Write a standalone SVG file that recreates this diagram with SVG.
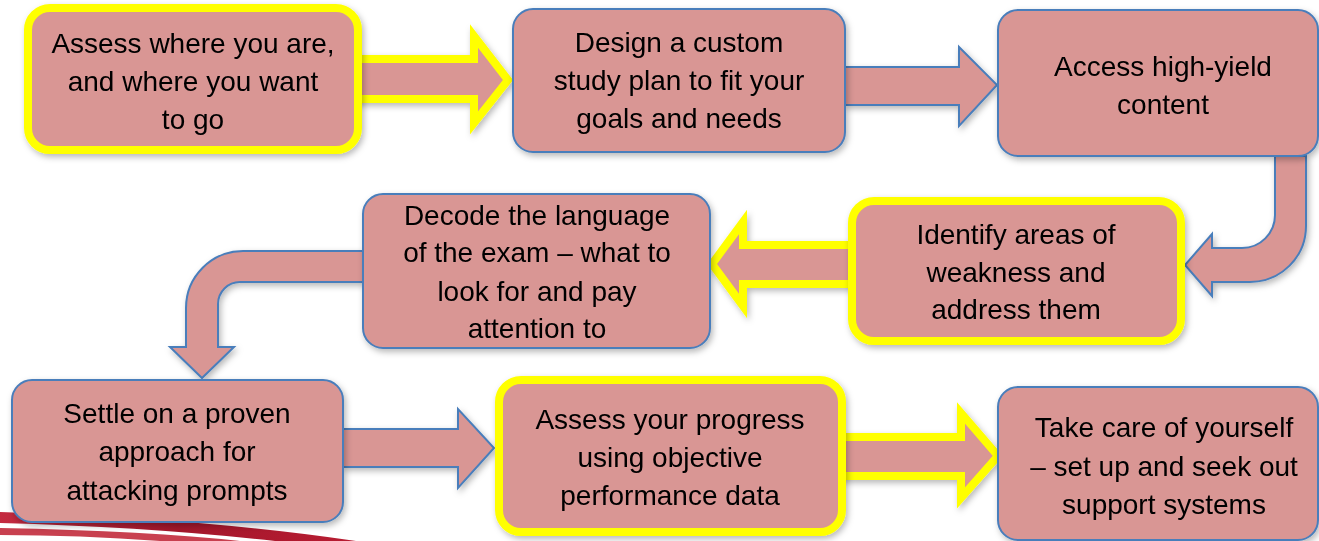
<svg xmlns="http://www.w3.org/2000/svg" width="1319" height="541" viewBox="0 0 1319 541">
  <style>
    .box { fill: #d99694; }
    .blue { stroke: #4a7ebb; stroke-width: 2; }
    .yellow { stroke: #ffff00; stroke-width: 8; }
    .arrow { fill: #d99694; stroke-linejoin: miter; }
    .label { font-family: "Liberation Sans", Arial, sans-serif; font-size: 28px; fill: #000; text-anchor: middle; }
  </style>
  <defs>
    <filter id="shadow" x="-10%" y="-10%" width="130%" height="140%">
      <feDropShadow dx="2" dy="3" stdDeviation="3" flood-color="#000" flood-opacity="0.28"/>
    </filter>
    <linearGradient id="swoosh" x1="0" y1="0" x2="1" y2="0">
      <stop offset="0" stop-color="#c42a40"/>
      <stop offset="0.5" stop-color="#a3172b"/>
      <stop offset="1" stop-color="#b81c32"/>
    </linearGradient>
  </defs>

  <rect width="1319" height="541" fill="#ffffff"/>

  <!-- decorative red stripes, lower left -->
  <g id="swoosh-stripes">
    <path d="M0,512 Q200,518 356,541 L275,541 Q150,527 0,523 Z" fill="url(#swoosh)"/>
    <path d="M0,528 Q150,531 240,541 L160,541 Q80,535 0,535 Z" fill="#c8404f"/>
  </g>

  <!-- connectors -->
  <g id="connectors" filter="url(#shadow)">
    <path class="arrow yellow" d="M356,59 L474,59 L474,36 L508,80 L474,123 L474,99 L356,99 Z"/>
    <path class="arrow blue" d="M845,67 L959,67 L959,47 L997,85 L959,126 L959,105 L845,105 Z"/>
    <path class="arrow blue" d="M1275,156 L1275,215 A33,33 0 0 1 1242,248 L1212,248 L1212,234 L1185,265 L1212,296 L1212,282 L1250,282 A56,56 0 0 0 1306,226 L1306,156 Z"/>
    <path class="arrow yellow" d="M852,245 L743,245 L743,222 L712,264 L743,306 L743,284 L852,284 Z"/>
    <path class="arrow blue" d="M363,251 L243,251 A57,57 0 0 0 186,308 L186,347 L170,347 L202,378 L234,347 L218,347 L218,304 A22,22 0 0 1 240,282 L363,282 Z"/>
    <path class="arrow blue" d="M343,429 L458,429 L458,409 L494,448 L458,488 L458,467 L343,467 Z"/>
    <path class="arrow yellow" d="M842,437 L961,437 L961,413 L998,456 L961,498 L961,476 L842,476 Z"/>
  </g>

  <!-- steps -->
  <g id="step-assess" filter="url(#shadow)">
    <rect class="box yellow" x="28" y="8" width="330" height="142" rx="22"/>
    <text class="label" x="193" y="53">Assess where you are,</text>
    <text class="label" x="193" y="91">and where you want</text>
    <text class="label" x="193" y="129">to go</text>
  </g>

  <g id="step-design" filter="url(#shadow)">
    <rect class="box blue" x="513" y="9" width="332" height="143" rx="20"/>
    <text class="label" x="679" y="52">Design a custom</text>
    <text class="label" x="679" y="90">study plan to fit your</text>
    <text class="label" x="679" y="128">goals and needs</text>
  </g>

  <g id="step-content" filter="url(#shadow)">
    <rect class="box blue" x="998" y="10" width="320" height="146" rx="20"/>
    <text class="label" x="1163" y="76">Access high-yield</text>
    <text class="label" x="1163" y="114">content</text>
  </g>

  <g id="step-weakness" filter="url(#shadow)">
    <rect class="box yellow" x="852" y="201" width="329" height="140" rx="22"/>
    <text class="label" x="1016" y="244">Identify areas of</text>
    <text class="label" x="1016" y="282">weakness and</text>
    <text class="label" x="1016" y="319">address them</text>
  </g>

  <g id="step-decode" filter="url(#shadow)">
    <rect class="box blue" x="363" y="194" width="347" height="154" rx="20"/>
    <text class="label" x="537" y="225">Decode the language</text>
    <text class="label" x="537" y="262">of the exam – what to</text>
    <text class="label" x="537" y="301">look for and pay</text>
    <text class="label" x="537" y="338">attention to</text>
  </g>

  <g id="step-approach" filter="url(#shadow)">
    <rect class="box blue" x="12" y="380" width="331" height="142" rx="20"/>
    <text class="label" x="177" y="423">Settle on a proven</text>
    <text class="label" x="177" y="461">approach for</text>
    <text class="label" x="177" y="500">attacking prompts</text>
  </g>

  <g id="step-progress" filter="url(#shadow)">
    <rect class="box yellow" x="499" y="380" width="343" height="152" rx="22"/>
    <text class="label" x="670" y="429">Assess your progress</text>
    <text class="label" x="670" y="467">using objective</text>
    <text class="label" x="670" y="505">performance data</text>
  </g>

  <g id="step-selfcare" filter="url(#shadow)">
    <rect class="box blue" x="998" y="387" width="320" height="153" rx="20"/>
    <text class="label" x="1164" y="437">Take care of yourself</text>
    <text class="label" x="1164" y="476">– set up and seek out</text>
    <text class="label" x="1164" y="514">support systems</text>
  </g>
</svg>
